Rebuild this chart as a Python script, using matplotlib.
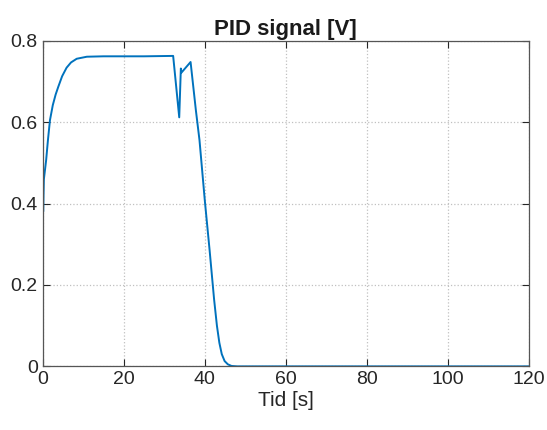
import numpy as np
import matplotlib.pyplot as plt

# PID output
t = [0, 0.12, 0.3, 0.86, 1.3, 1.8, 2.5, 3.2, 3.85, 4.8, 5.9, 7.0, 8.4, 10.9, 15, 20, 25,
     32.2, 33.7, 34.1, 34.25, 36.5, 37.8, 38.7, 40, 41.2, 42.3, 43.0, 43.6, 44.2, 44.9, 45.7, 46.6, 48, 120]
u = [0.53, 0.38, 0.46, 0.507, 0.556, 0.605, 0.642, 0.668, 0.687, 0.713, 0.734, 0.747, 0.756, 0.761, 0.762, 0.762, 0.762,
     0.763, 0.612, 0.732, 0.722, 0.748, 0.63, 0.556, 0.409, 0.285, 0.165, 0.100, 0.058, 0.030, 0.013, 0.005, 0.001, 0.0, 0.0]

xticks = [0, 20, 40, 60, 80, 100, 120]
yticks = [0, 0.2, 0.4, 0.6, 0.8]

plt.rcParams['font.family'] = ['Liberation Sans', 'DejaVu Sans']

fig = plt.figure(figsize=(5.47, 4.30), dpi=100)
ax = fig.add_axes([0.078, 0.148, 0.889, 0.757])

ax.plot(t, u, color='#0072BD', lw=1.4)

ax.set_xlim(0, 120)
ax.set_ylim(0, 0.8)
ax.set_xticks(xticks)
ax.set_yticks(yticks)
ax.set_yticklabels(['0', '0.2', '0.4', '0.6', '0.8'])
ax.grid(True, linestyle=':', color='#c0c0c0', lw=0.9)
ax.tick_params(direction='in', top=True, right=True, labelsize=14, length=5,
               color='#262626', labelcolor='#262626')
for s in ax.spines.values():
    s.set_color('#555555')
    s.set_linewidth(0.9)

ax.set_xlabel('Tid [s]', fontsize=15, labelpad=2, color='#262626')
ax.set_title('PID signal [V]', fontsize=16, fontweight='bold', pad=4, color='#1a1a1a')

fig.savefig('out.png', dpi=100, facecolor='white')
